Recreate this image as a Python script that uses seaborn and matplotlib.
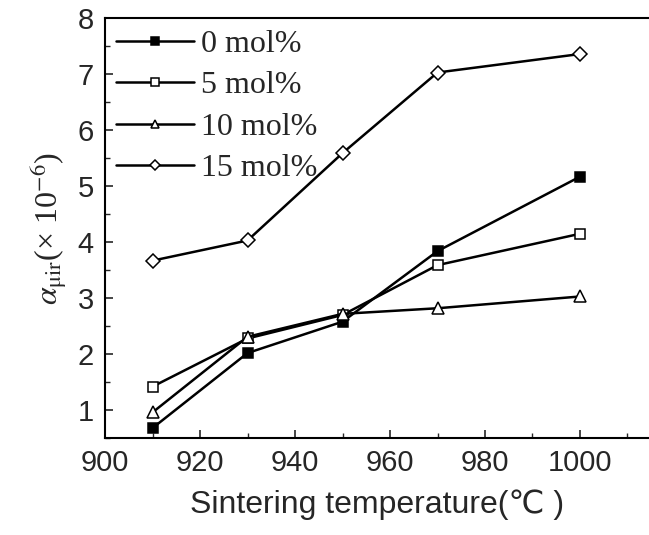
import matplotlib
matplotlib.use("Agg")
import matplotlib.pyplot as plt
import seaborn as sns
import pandas as pd
from matplotlib.ticker import MultipleLocator

temps = [910, 930, 950, 970, 1000]
labels = ["0 mol%", "5 mol%", "10 mol%", "15 mol%"]
s0 = [0.68, 2.02, 2.58, 3.84, 5.17]
s5 = [1.42, 2.28, 2.70, 3.59, 4.15]
s10 = [0.96, 2.31, 2.72, 2.82, 3.03]
s15 = [3.67, 4.03, 5.59, 7.03, 7.36]
series = [s0, s5, s10, s15]
markers = ["s", "s", "^", "D"]
faces = ["black", "white", "white", "white"]
msizes = [7, 7, 8, 7]

sns.set_style("ticks")
plt.rcParams['font.family'] = ['Liberation Sans', 'DejaVu Sans']
plt.rcParams['mathtext.fontset'] = 'stix'

fig = plt.figure(figsize=(6.49, 5.35), dpi=100)
ax = fig.add_axes([0.1618, 0.181, 0.838, 0.785])

for lab, vals, m, fc, ms in zip(labels, series, markers, faces, msizes):
    df = pd.DataFrame({"T": temps, "a": vals})
    sns.lineplot(data=df, x="T", y="a", ax=ax, color="black", lw=1.8,
                 marker=m, markerfacecolor=fc, markeredgecolor="black",
                 markeredgewidth=1.1, markersize=ms, label=lab)

ax.set_xlim(900, 1014.5)
ax.set_ylim(0.5, 8)
ax.xaxis.set_major_locator(MultipleLocator(20))
ax.xaxis.set_minor_locator(MultipleLocator(10))
ax.yaxis.set_minor_locator(MultipleLocator(0.5))
ax.set_yticks([1, 2, 3, 4, 5, 6, 7, 8])
ax.tick_params(which="major", direction="in", length=6, width=1.2,
               labelsize=21, pad=8)
ax.tick_params(which="minor", direction="in", length=3.5, width=1.0)
ax.tick_params(top=False, right=False)
for sp in ["left", "bottom", "top"]:
    ax.spines[sp].set_linewidth(1.5)
    ax.spines[sp].set_color("black")
ax.spines["right"].set_visible(False)

ax.set_xlabel("Sintering temperature(\u2103 )", fontsize=23, labelpad=9)
ax.set_ylabel("$\\alpha_{\\mathrm{\\mu ir}}$(\u00d7 10$^{-6}$)", fontsize=23,
              family=['Liberation Serif', 'DejaVu Serif'], labelpad=6)

leg = ax.legend(loc="upper left", bbox_to_anchor=(0.0, 1.0), frameon=False,
                handlelength=2.45, handletextpad=0.22, borderpad=0.1,
                borderaxespad=0.25, labelspacing=0.38, markerscale=0.75,
                prop={'family': ['Liberation Serif', 'DejaVu Serif'], 'size': 23})

fig.savefig("out.png", dpi=100)
